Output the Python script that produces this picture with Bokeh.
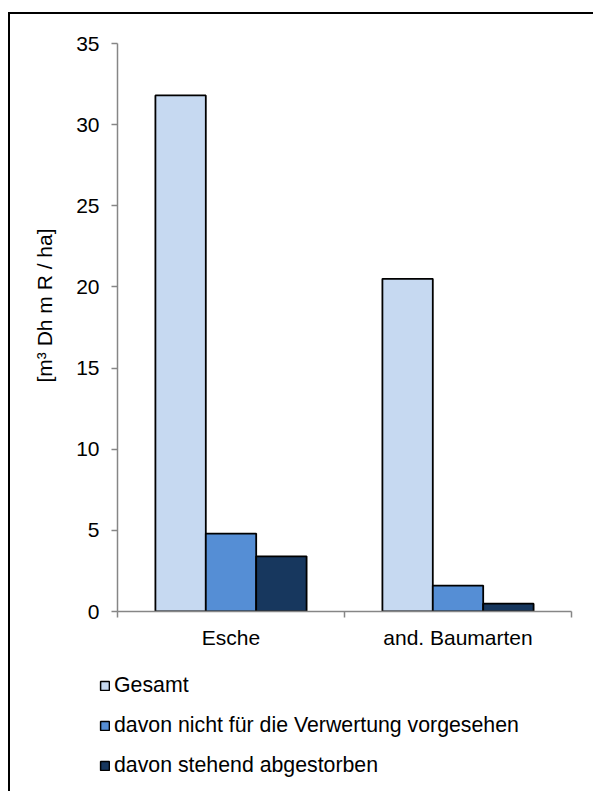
import numpy as np
from bokeh.plotting import figure
from bokeh.layouts import column
from bokeh.models import Legend, LegendItem, FixedTicker, Title
from bokeh.embed import file_html
from bokeh.resources import INLINE

# ---- data ----
categories = ["Esche", "and. Baumarten"]
series_names = ["Gesamt",
                "davon nicht für die Verwertung vorgesehen",
                "davon stehend abgestorben"]
gesamt = [31.8, 20.5]
nicht_verwertung = [4.8, 1.6]
stehend_abgestorben = [3.4, 0.48]
y_ticks = [0, 5, 10, 15, 20, 25, 30, 35]

colors = ["#C6D9F1", "#558ED5", "#17375E"]
FONT = "Liberation Sans"
AXIS_GRAY = "#868686"

p = figure(width=583, height=646, x_range=(0, len(categories)), y_range=(0, 35),
           output_backend="svg", toolbar_location=None,
           min_border_left=107, min_border_right=22, min_border_top=29, min_border_bottom=49)
p.frame_align = False
p.outline_line_color = None
p.xgrid.visible = False
p.ygrid.visible = False
p.background_fill_color = "white"
p.border_fill_color = "white"

centers = np.arange(len(categories)) + 0.5
bar_w = 0.222
series = [gesamt, nicht_verwertung, stehend_abgestorben]
for i, (vals, name, col) in enumerate(zip(series, series_names, colors)):
    p.vbar(x=centers + (i - 1) * bar_w, top=vals, width=bar_w, bottom=0,
           fill_color=col, line_color="black", line_width=1.8)

# x axis: labels at category centers, ticks at category boundaries
xa = p.xaxis[0]
xa.ticker = FixedTicker(ticks=list(centers), minor_ticks=list(np.arange(len(categories) + 1)))
xa.major_label_overrides = {float(c): cat for c, cat in zip(centers, categories)}
xa.major_tick_out = 0
xa.major_tick_in = 0
xa.minor_tick_out = 6
xa.minor_tick_in = 0
xa.minor_tick_line_color = AXIS_GRAY
xa.minor_tick_line_width = 1.5
xa.axis_line_color = AXIS_GRAY
xa.axis_line_width = 1.5
xa.major_label_text_font = FONT
xa.major_label_text_font_size = "21px"
xa.major_label_text_color = "black"
xa.major_label_standoff = 8

ya = p.yaxis[0]
ya.ticker = FixedTicker(ticks=y_ticks)
ya.major_tick_out = 6
ya.major_tick_in = 0
ya.minor_tick_out = 0
ya.minor_tick_in = 0
ya.major_tick_line_color = AXIS_GRAY
ya.major_tick_line_width = 1.5
ya.axis_line_color = AXIS_GRAY
ya.axis_line_width = 1.5
ya.major_label_text_font = FONT
ya.major_label_text_font_size = "21px"
ya.major_label_text_color = "black"
ya.major_label_standoff = 12

ytitle = Title(text="[m³ Dh m R / ha]", align="left", offset=229, standoff=36,
               text_font=FONT, text_font_size="21px", text_font_style="normal",
               text_color="black")
p.add_layout(ytitle, "left")

# ---- legend strip below the chart ----
p2 = figure(width=583, height=131, x_range=(0, 1), y_range=(0, 1),
            output_backend="svg", toolbar_location=None,
            x_axis_location=None, y_axis_location=None, min_border=0)
p2.frame_align = False
p2.outline_line_color = None
p2.xgrid.visible = False
p2.ygrid.visible = False
p2.border_fill_color = "white"
items = []
for i, (vals, name, col) in enumerate(zip(series, series_names, colors)):
    r = p2.vbar(x=centers + (i - 1) * bar_w, top=vals, width=bar_w, bottom=0,
                fill_color=col, line_color="black", line_width=1.5, visible=False)
    items.append(LegendItem(label=name, renderers=[r]))

legend = Legend(items=items, location=(89, 13), orientation="vertical",
                glyph_width=11, glyph_height=11, label_standoff=4,
                label_text_font=FONT, label_text_font_size="21.3px", label_text_color="black",
                label_height=22, spacing=15, padding=0, margin=0,
                border_line_color=None, background_fill_alpha=0,
                inactive_fill_alpha=0)
p2.add_layout(legend, "center")

layout = column(p, p2, spacing=0,
                styles={"border-left": "2px solid black", "border-top": "2px solid black",
                        "margin-top": "12px", "margin-left": "8px"})

open("out.html", "w").write(file_html(layout, INLINE))
